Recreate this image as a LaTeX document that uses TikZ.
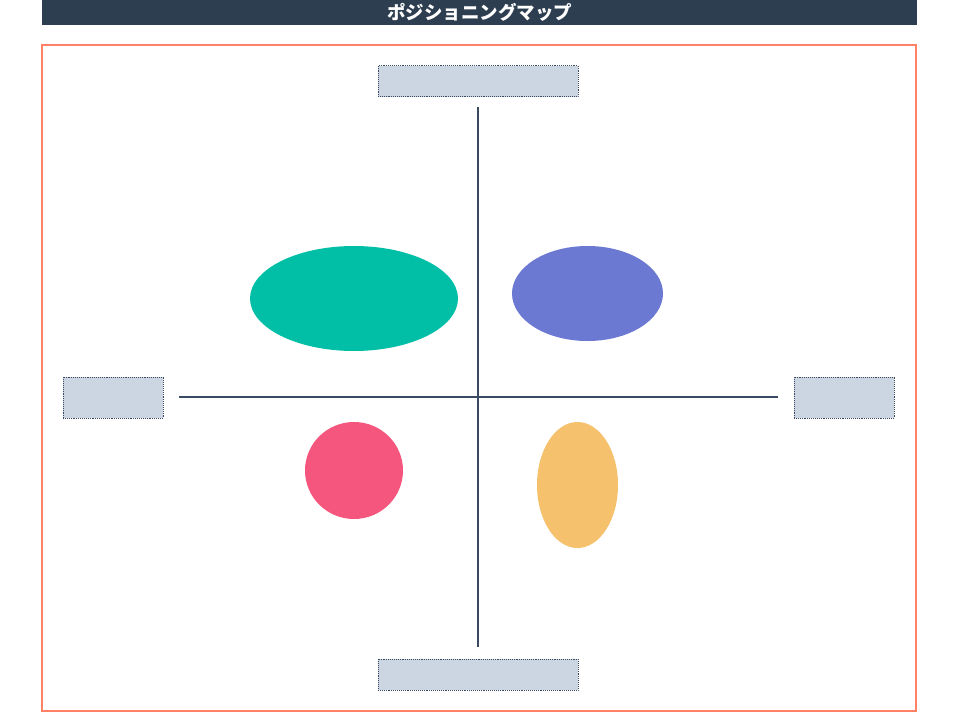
\documentclass[tikz,border=0pt]{standalone}
\usepackage{fontspec}
\newfontfamily\cjk{Noto Sans CJK JP}
\usetikzlibrary{shapes.geometric,positioning}
\definecolor{barblue}{HTML}{2D3E50}
\definecolor{framered}{HTML}{FF8266}
\definecolor{axisgray}{HTML}{3A4A60}
\definecolor{boxfill}{HTML}{CCD6E2}
\definecolor{teal}{HTML}{00BFA6}
\definecolor{violet}{HTML}{6C79D2}
\definecolor{rose}{HTML}{F5567D}
\definecolor{amber}{HTML}{F5C16C}
\tikzset{labelbox/.style={draw=axisgray, densely dotted, line width=0.9pt, fill=boxfill,
    inner sep=0pt, minimum height=31pt},
  blob/.style={ellipse, draw=none, inner sep=0pt},
  axis/.style={draw=axisgray, line width=2pt}
}

\begin{document}
\begin{tikzpicture}[x=1pt, y=-1pt]
      \useasboundingbox (0,0) rectangle (960,720);
      \fill[barblue] (42,0) rectangle (917,25);
      \node[text=white] (title) at (479.5,12) {\cjk\bfseries\fontsize{18.5}{20}\selectfont ポジショニングマップ};
      \draw[framered, line width=2pt] (42,45) rectangle (916,711);

      \node[labelbox, minimum width=200pt]                 (top)    at (478,81)  {};
      \node[labelbox, minimum width=200pt]                 (bottom) at (478,674.5) {};
      \node[labelbox, minimum width=100pt, minimum height=41pt] (left)   at (113,397.5) {};
      \node[labelbox, minimum width=100pt, minimum height=41pt] (right)  at (844,397.5) {};

      \coordinate (n) at (478,107);
      \coordinate (s) at (478,647);
      \coordinate (w) at (179,397);
      \coordinate (e) at (778,397);
      \draw[axis] (n) -- (s);
      \draw[axis] (w) -- (e);

      \node[blob, fill=teal,   minimum width=208pt, minimum height=105pt] (green)  at (354,298.5) {};
      \node[blob, fill=violet, minimum width=151pt, minimum height=95pt]  (blue)   at (587.5,293.5) {};
      \node[blob, fill=rose,   minimum width=98pt,  minimum height=97pt]  (red)    at (354,470.5) {};
      \node[blob, fill=amber,  minimum width=81pt,  minimum height=126pt] (yellow) at (577.5,485) {};
\end{tikzpicture}
\end{document}
